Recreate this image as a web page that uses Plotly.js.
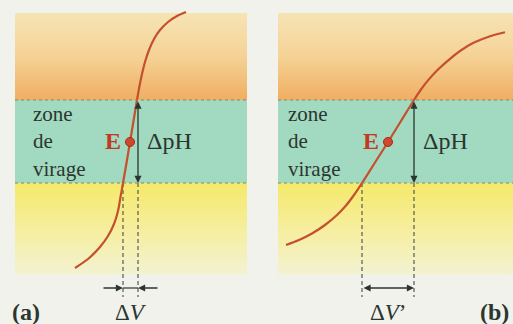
<!DOCTYPE html>
<html>
<head>
<meta charset="utf-8">
<script src="https://cdn.plot.ly/plotly-3.0.1.min.js"></script>
<style>
  html, body { margin: 0; padding: 0; background: #f2f2ec; }
  #chart { width: 513px; height: 324px; }
</style>
</head>
<body>
<div id="chart"></div>
<script>
// Figure units: x to the right, y downward
const panelA = [15, 247];
const panelB = [278, 513];
const bandTop = 13;
const zoneTop = 100;     // upper limit of the zone de virage
const zoneBottom = 183;  // lower limit of the zone de virage
const bandBottom = 275;

// (a) steep titration curve
const curveAx = [75, 88, 100, 108, 114, 118, 120.5, 123, 126.5, 130, 133.5, 137, 139.5, 142, 145, 149, 154, 160, 168, 177, 186];
const curveAy = [268, 259, 247, 236, 224, 211, 197, 183, 163, 142, 121, 100, 86, 74, 62, 50, 39, 30, 22, 16, 12];
const pointA = [130, 142];
const dVa = [123, 138];

// (b) gentle titration curve
const curveBx = [286, 299, 312, 325, 337, 346, 354, 362, 375, 388, 401, 414, 421, 428, 437, 448, 460, 474, 490, 505];
const curveBy = [245, 240, 233.5, 225, 215, 205.5, 195, 183, 162.5, 142, 121, 100, 89.5, 80.4, 70.5, 60.6, 51, 42.6, 36.2, 32.2];
const pointB = [388, 142];
const dVb = [362, 414];

const dashBottom = 297;
const arrowY = 288;

const curveColor = '#c4502c';
const inkColor = '#2b3630';
const serif = 'Liberation Serif, Times New Roman, serif';

function bandTrace(xr, y0, y1, colors) {
    return {
        x: [xr[0], xr[1], xr[1], xr[0], xr[0]],
        y: [y0, y0, y1, y1, y0],
        mode: 'lines',
        line: {width: 0},
        fill: 'toself',
        fillgradient: {type: 'vertical', start: y0, stop: y1, colorscale: colors},
        hoverinfo: 'skip'
    };
}

const orangeScale = [[0, '#f6e4b4'], [0.5, '#f5d296'], [1, '#f0ae62']];
const yellowScale = [[0, '#f5e96a'], [0.5, '#f6ee9e'], [1, '#f3f2d2']];

const traces = [];
for (let xr of [panelA, panelB]) {
    traces.push(bandTrace(xr, bandTop, zoneTop, orangeScale));
    traces.push(bandTrace(xr, zoneBottom, bandBottom, yellowScale));
}

function dashed(x) {
    return {x: [x, x], y: [zoneBottom, dashBottom], mode: 'lines',
        line: {color: '#555b55', width: 1.2, dash: '4px,3px'}, hoverinfo: 'skip'};
}
for (let x of dVa.concat(dVb)) traces.push(dashed(x));

traces.push({x: dVa, y: [arrowY, arrowY], mode: 'lines',
    line: {color: inkColor, width: 1.2}, hoverinfo: 'skip'});

traces.push({x: curveAx, y: curveAy, mode: 'lines',
    line: {color: curveColor, width: 2.2, shape: 'spline', smoothing: 0.8}});
traces.push({x: curveBx, y: curveBy, mode: 'lines',
    line: {color: curveColor, width: 2.2, shape: 'spline', smoothing: 0.8}});

traces.push({x: [pointA[0], pointB[0]], y: [pointA[1], pointB[1]], mode: 'markers',
    marker: {size: 9, color: '#d4452e', line: {color: '#9a3018', width: 1}}});

const shapes = [];
for (let xr of [panelA, panelB]) {
    shapes.push({type: 'rect', layer: 'below', x0: xr[0], x1: xr[1], y0: zoneTop, y1: zoneBottom,
        fillcolor: '#a2d9c1', line: {width: 0}});
    for (let y of [zoneTop, zoneBottom]) {
        shapes.push({type: 'line', x0: xr[0], x1: xr[1], y0: y, y1: y,
            line: {color: '#7d8a72', width: 1, dash: 'dot'}});
    }
}

function txt(x, y, text, opts) {
    return Object.assign({x: x, y: y, text: text, showarrow: false, borderpad: 0,
        font: {family: serif, size: 24, color: inkColor}}, opts || {});
}

function arrow(x, y, ax, ay, both) {
    return {x: x, y: y, ax: ax, ay: ay, axref: 'x', ayref: 'y', text: '',
        showarrow: true, arrowhead: 2, startarrowhead: 2, arrowsize: 1.1, startarrowsize: 1.1,
        arrowwidth: 1.3, arrowcolor: inkColor, arrowside: both ? 'end+start' : 'end',
        standoff: 0, startstandoff: 0};
}

const zoneLabel = 'zone<br>de<br>virage';
const redE = {family: serif, size: 24, color: '#c23a24'};

const annotations = [];
for (let xLeft of [32, 287]) {
    annotations.push(txt(xLeft, 141, zoneLabel, {xanchor: 'left', align: 'left',
        font: {family: serif, size: 21, color: inkColor}}));
}
annotations.push(
    // panel (a)
    txt(113, 141, '<b>E</b>', {font: redE}),
    txt(146, 141, 'ΔpH', {xanchor: 'left'}),
    arrow(dVa[1], zoneBottom, dVa[1], zoneTop, true),
    arrow(dVa[0], arrowY, 102, arrowY, false),
    arrow(dVa[1], arrowY, 159, arrowY, false),
    txt(131, 312, 'Δ<i>V</i>', {font: {family: serif, size: 23, color: inkColor}}),
    txt(26, 312, '<b>(a)</b>'),
    // panel (b)
    txt(371, 141, '<b>E</b>', {font: redE}),
    txt(422, 141, 'ΔpH', {xanchor: 'left'}),
    arrow(dVb[1], zoneBottom, dVb[1], zoneTop, true),
    arrow(dVb[1], arrowY, dVb[0], arrowY, true),
    txt(388, 312, 'Δ<i>V</i>’', {font: {family: serif, size: 23, color: inkColor}}),
    txt(494, 312, '<b>(b)</b>')
);

const layout = {
    width: 513,
    height: 324,
    margin: {l: 0, r: 0, t: 0, b: 0},
    paper_bgcolor: '#f2f2ec',
    plot_bgcolor: '#f2f2ec',
    showlegend: false,
    xaxis: {range: [0, 513], visible: false, fixedrange: true},
    yaxis: {range: [324, 0], visible: false, fixedrange: true},
    shapes: shapes,
    annotations: annotations
};

Plotly.newPlot('chart', traces, layout, {staticPlot: true, displayModeBar: false});
</script>
</body>
</html>
